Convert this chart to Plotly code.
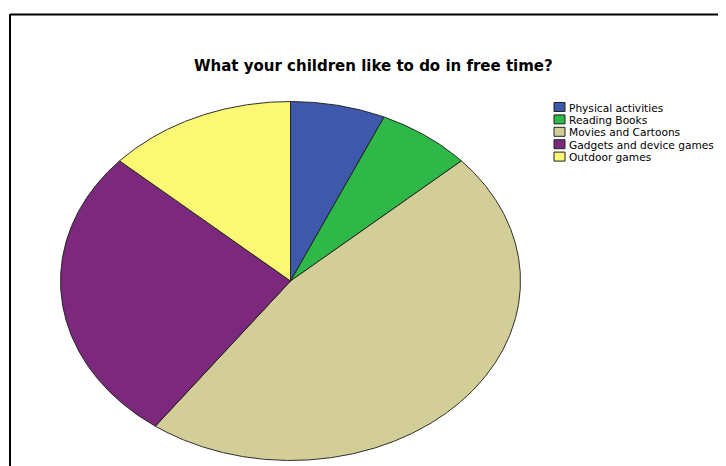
import numpy as np
import plotly.graph_objects as go

title_text = "What your children like to do in free time?"
categories = ["Physical activities", "Reading Books", "Movies and Cartoons",
              "Gadgets and device games", "Outdoor games"]
counts = [1, 1, 7, 4, 2]
colors = ["#3E58AC", "#2EB848", "#D3CE97", "#7C287D", "#FBF873"]

W, H = 726, 466
OFF = 8  # page body margin compensation
# ellipse (pie) geometry in pixel space
cx, cy, rx, ry = 290.5 - OFF, 281 - OFF, 230, 179.5

fig = go.Figure()
total = sum(counts)
start = 0.0
for cat, v, col in zip(categories, counts, colors):
    frac = v / total
    th = np.linspace(start, start + frac, max(int(frac * 1440), 4)) * 2 * np.pi
    xs = np.concatenate([[cx], cx + rx * np.sin(th), [cx]])
    ys = np.concatenate([[cy], cy - ry * np.cos(th), [cy]])
    fig.add_trace(go.Scatter(x=xs, y=ys, fill="toself", fillcolor=col, mode="lines",
                             line=dict(color="#1a1a1a", width=0.9), name=cat,
                             showlegend=False, hoverinfo="name"))
    start += frac

shapes = [
    dict(type="line", xref="x", yref="y", x0=10 - OFF, y0=H, x1=10 - OFF, y1=14 - OFF,
         line=dict(color="black", width=2)),
    dict(type="line", xref="x", yref="y", x0=10 - OFF, y0=14.5 - OFF, x1=W, y1=14.5 - OFF,
         line=dict(color="black", width=2)),
]
annotations = [
    dict(text="<b>" + title_text + "</b>", x=373 - OFF, y=66 - OFF, xref="x", yref="y",
         showarrow=False, xanchor="center", yanchor="middle",
         font=dict(family="DejaVu Sans", size=15, color="black")),
]

ly0, ldy = 107 - OFF, 12.4
for i, (cat, col) in enumerate(zip(categories, colors)):
    yc = ly0 + i * ldy
    shapes.append(dict(type="rect", xref="x", yref="y", x0=554 - OFF, x1=565 - OFF,
                       y0=yc - 4.5, y1=yc + 4.5, fillcolor=col,
                       line=dict(color="#222", width=1)))
    annotations.append(dict(text=cat, x=568 - OFF, y=yc + 0.5, xref="x", yref="y",
                            showarrow=False, xanchor="left", yanchor="middle",
                            height=12, borderpad=0,
                            font=dict(family="DejaVu Sans", size=10.6,
                                      color="black")))

fig.update_layout(
    width=W, height=H, margin=dict(l=0, r=0, t=0, b=0),
    paper_bgcolor="white", plot_bgcolor="white",
    xaxis=dict(range=[0, W], visible=False, fixedrange=True, domain=[0, 1]),
    yaxis=dict(range=[H, 0], visible=False, fixedrange=True, domain=[0, 1]),
    shapes=shapes, annotations=annotations, showlegend=False,
)
fig.write_html("out.html")
